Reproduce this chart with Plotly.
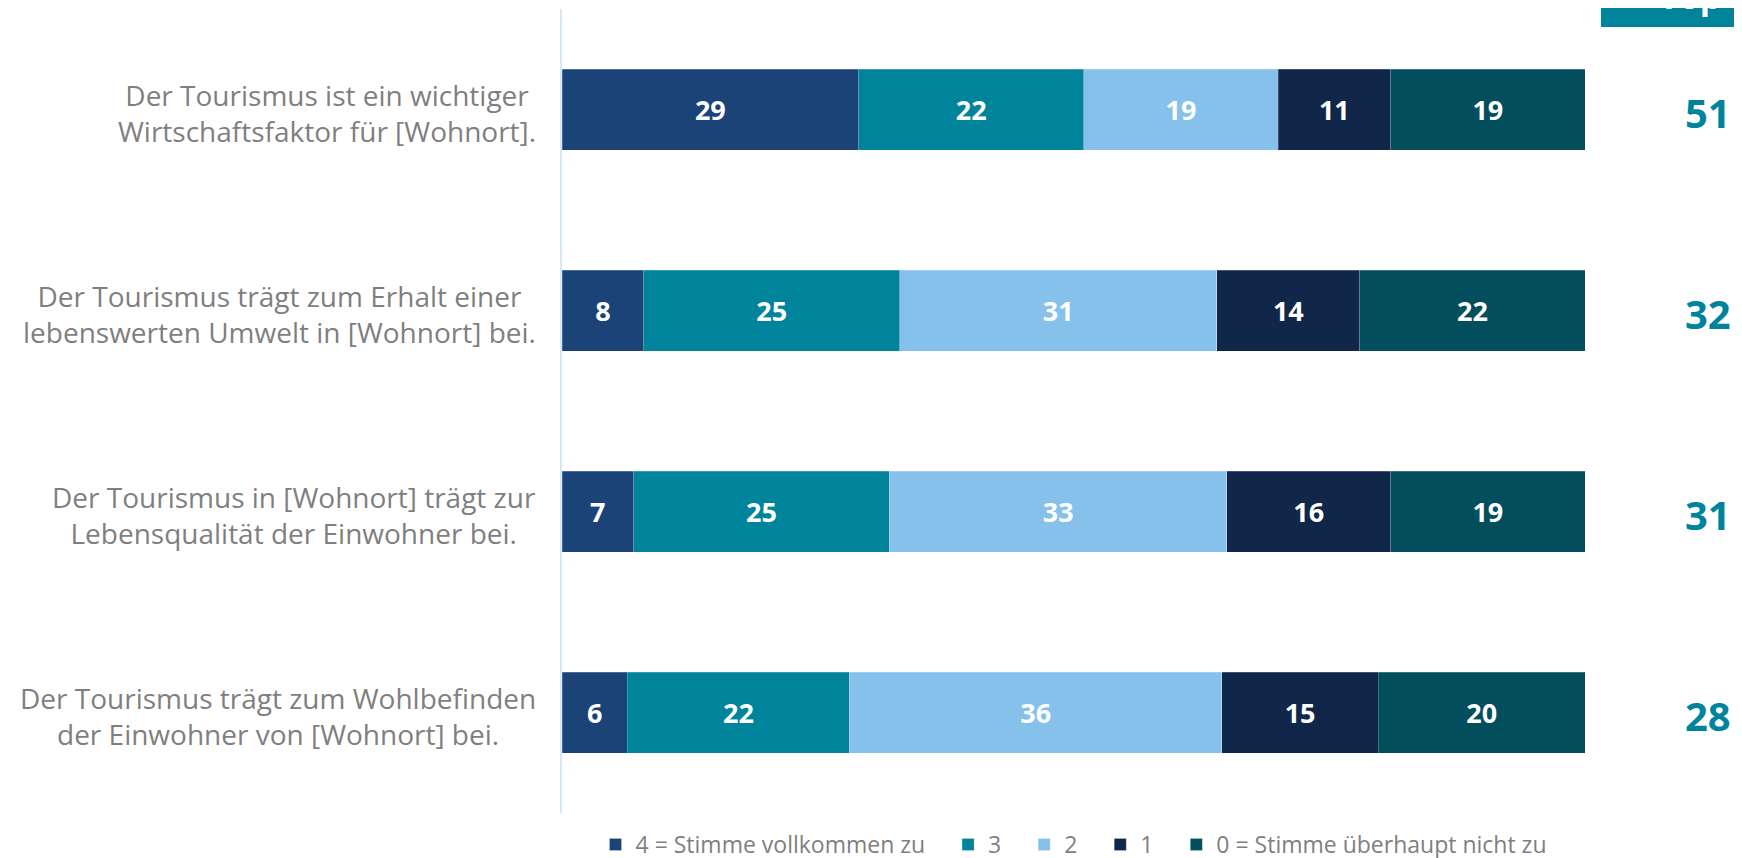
import plotly.graph_objects as go

categories = [
    "Der Tourismus ist ein wichtiger<br>Wirtschaftsfaktor für [Wohnort].",
    "Der Tourismus trägt zum Erhalt einer<br>lebenswerten Umwelt in [Wohnort] bei.",
    "Der Tourismus in [Wohnort] trägt zur<br>Lebensqualität der Einwohner bei.",
    "Der Tourismus trägt zum Wohlbefinden<br>der Einwohner von [Wohnort] bei.",
]
series_names = ["4 = Stimme vollkommen zu", "3", "2", "1", "0 = Stimme überhaupt nicht zu"]
values_4 = [29, 8, 7, 6.4]
values_3 = [22, 25, 25, 21.7]
values_2 = [19, 31, 33, 36.4]
values_1 = [11, 14, 16, 15.3]
values_0 = [19, 22, 19, 20.2]
top_scores = [51, 32, 31, 28]
top_header = "Top"

colors = ["#1b4378", "#00849c", "#85c1eb", "#10274a", "#024e5d"]
all_values = [values_4, values_3, values_2, values_1, values_0]

FONT = "Open Sans"
PW, PH = 1023, 804  # plot area size in px
NBSP = "\u00a0"

fig = go.Figure()
for i, (name, vals, col) in enumerate(zip(series_names, all_values, colors)):
    legend_name = name + (NBSP * 3 if i < len(series_names) - 1 else "")
    fig.add_trace(go.Bar(
        y=categories, x=vals, name=legend_name, orientation="h",
        marker=dict(color=col, line=dict(width=0.6, color="rgba(255,255,255,0.35)")),
        texttemplate="<b>%{x:.0f}</b>", textposition="inside",
        insidetextanchor="middle", textangle=0,
        textfont=dict(family=FONT, size=27, color="white"),
        constraintext="none",
        hovertemplate=name + ": %{x:.0f}<extra></extra>",
    ))

# category labels (centered lines, block right-aligned next to axis)
for cat in categories:
    fig.add_annotation(
        xref="paper", yref="y", x=0, y=cat, xanchor="right", yanchor="middle",
        xshift=-24, yshift=-3, text=cat, showarrow=False, align="center",
        font=dict(family=FONT, size=28, color="#7f7f7f"),
    )

# top scores
for cat, sc in zip(categories, top_scores):
    fig.add_annotation(
        xref="paper", yref="y", x=1, y=cat, xanchor="center", yanchor="middle",
        xshift=123, yshift=-3, text=f"<b>{sc}</b>", showarrow=False,
        font=dict(family=FONT, size=40, color="#00849c"),
    )

# header box (cut off by the top edge)
fig.add_shape(type="rect", xref="paper", yref="paper",
              x0=1 + 16 / PW, x1=1 + 220 / PW, y0=1 - 18 / PH, y1=1 + 20 / PH,
              fillcolor="#00849c", line=dict(width=0), layer="above")
fig.add_annotation(xref="paper", yref="paper", x=1, y=1, xshift=105, yshift=-12,
                   xanchor="center", yanchor="bottom", text=f"<b>{top_header}</b>",
                   showarrow=False, font=dict(family=FONT, size=34, color="white"))

fig.update_layout(
    width=1734, height=870,
    margin=dict(l=554, r=157, t=1, b=65, autoexpand=False),
    barmode="stack", bargap=0.597,
    plot_bgcolor="white", paper_bgcolor="white",
    xaxis=dict(range=[0, 100], visible=False, fixedrange=True),
    yaxis=dict(autorange="reversed", showticklabels=False, showgrid=False,
               showline=True, linecolor="#d6e8f8", linewidth=2, zeroline=False),
    legend=dict(orientation="h", x=0.5, xanchor="center", y=-31.5 / PH, yanchor="middle",
                font=dict(family=FONT, size=23, color="#7f7f7f"), traceorder="normal",
                itemwidth=30),
    font=dict(family=FONT),
    showlegend=True,
)

fig.write_html("out.html")
